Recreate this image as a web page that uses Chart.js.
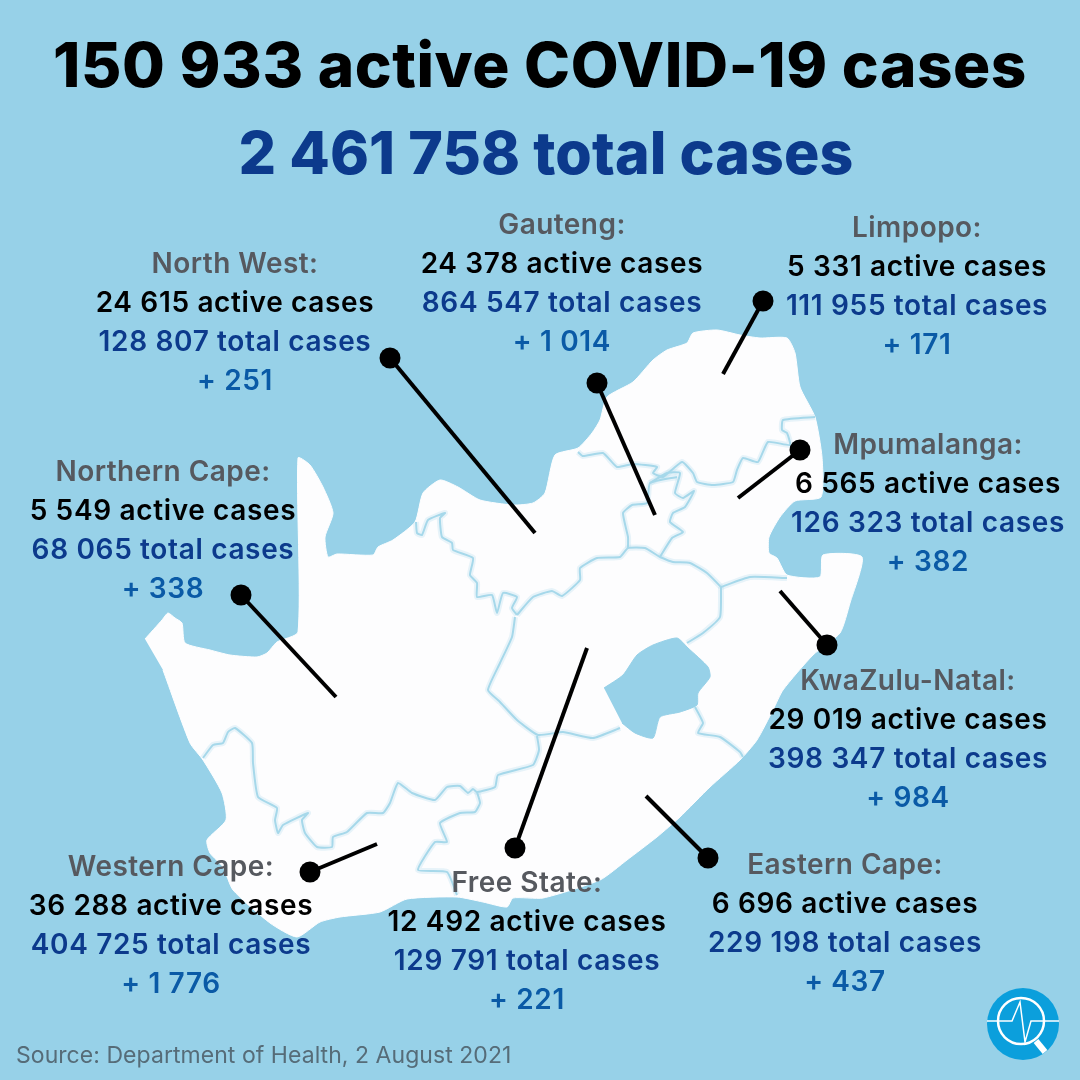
<!DOCTYPE html>
<html>
<head>
<meta charset="utf-8">
<style>
html, body { margin: 0; padding: 0; background: #97d1e8; }
canvas { display: block; }
</style>
<script src="https://cdn.jsdelivr.net/npm/chart.js@4"></script>
</head>
<body>
<canvas id="chart-covid" width="1080" height="1080"></canvas>
<script>
const headline = '150 933 active COVID-19 cases';
const subHeadline = '2 461 758 total cases';
const sourceNote = 'Source: Department of Health, 2 August 2021';

const provinces = ['Gauteng', 'Limpopo', 'North West', 'Northern Cape', 'Mpumalanga', 'KwaZulu-Natal', 'Western Cape', 'Free State', 'Eastern Cape'];
const activeCases = ['24 378', '5 331', '24 615', '5 549', '6 565', '29 019', '36 288', '12 492', '6 696'];
const totalCases = ['864 547', '111 955', '128 807', '68 065', '126 323', '398 347', '404 725', '129 791', '229 198'];
const newCases = ['1 014', '171', '251', '338', '382', '984', '1 776', '221', '437'];

// where each text block sits: centre x, y of first line
const blockX = [562, 917, 235, 163, 928, 908, 171, 527, 845];
const blockY = [226, 229, 265, 473, 446, 682, 868, 884, 866];

// leader lines, dot first then the end on the map
const leaderLines = [
    [[597, 383], [655, 515]],
    [[763, 301], [723, 374]],
    [[390, 358], [535, 533]],
    [[241, 595], [336, 697]],
    [[800, 450], [738, 498]],
    [[827, 645], [780, 591]],
    [[310, 872], [377, 844]],
    [[515, 848], [587, 648]],
    [[708, 858], [646, 796]]
];

const countryOutline = [
    [145, 639], [162, 620], [168, 613], [175, 618], [182, 623], [185, 643], [210, 650], [230, 655], [257, 657], [267, 653],
    [277, 642], [298, 632], [298, 458], [310, 465], [323, 487], [333, 513], [325, 537], [328, 557], [337, 554], [373, 555],
    [378, 547], [393, 540], [415, 522], [423, 493], [440, 480], [458, 487], [480, 500], [513, 505], [533, 503], [545, 493],
    [555, 455], [578, 448], [592, 433], [600, 420], [607, 397], [633, 382], [653, 360], [667, 350], [687, 343], [693, 333],
    [717, 330], [740, 335], [760, 338], [787, 338], [795, 353], [800, 387], [815, 417], [822, 457], [821, 497], [795, 501],
    [780, 517], [769, 537], [769, 553], [777, 558], [787, 575], [820, 577], [823, 555], [862, 557], [850, 603], [840, 633],
    [813, 655], [783, 690], [773, 710], [757, 740], [740, 760], [710, 787], [680, 817], [657, 837], [627, 860], [600, 880],
    [543, 898], [513, 898], [507, 907], [483, 902], [457, 897], [407, 899], [380, 912], [340, 917], [320, 922], [297, 937],
    [270, 923], [233, 890], [223, 867], [210, 853], [207, 840], [226, 820], [222, 793], [203, 760], [190, 743], [163, 670]
];
const lesotho = [
    [604, 688], [623, 675], [637, 655], [653, 645], [677, 638], [688, 648], [708, 667], [710, 677], [698, 693], [697, 705],
    [680, 712], [660, 717], [653, 738], [635, 733], [622, 723]
];
const borderLines = [
    // Northern Cape / North West
    [[416, 522], [417, 533], [422, 535], [428, 520], [445, 513], [440, 518], [442, 537], [452, 543], [453, 550], [473, 558],
     [470, 575], [477, 583], [477, 597], [492, 595], [497, 613], [503, 593], [517, 597], [512, 608], [517, 615]],
    // North West / Free State, on to KZN
    [[517, 615], [533, 597], [552, 591], [562, 596], [580, 580], [580, 568], [597, 558], [620, 557], [628, 548], [645, 548],
     [660, 557], [673, 562], [690, 563], [707, 573], [721, 587]],
    // Free State / KZN
    [[721, 587], [720, 617], [703, 633], [687, 643]],
    // KZN / Mpumalanga
    [[721, 587], [750, 577], [787, 578]],
    // Gauteng
    [[628, 548], [628, 537], [623, 513], [632, 505], [647, 503], [650, 483], [677, 477]],
    [[660, 557], [672, 538], [683, 532], [670, 522], [673, 513], [685, 507], [694, 491], [683, 498], [675, 493], [680, 473], [667, 473], [650, 483]],
    // Limpopo
    [[578, 452], [583, 456], [603, 453], [617, 467], [633, 464], [657, 467], [653, 473], [663, 477], [682, 462], [693, 473],
     [697, 482], [713, 485], [733, 482], [737, 470], [743, 458], [758, 462], [768, 442], [790, 445], [787, 433], [782, 430], [783, 420], [815, 417]],
    // Free State / Northern Cape
    [[515, 617], [512, 637], [500, 663], [488, 690], [500, 702], [517, 720], [538, 735], [563, 732], [593, 738], [620, 728]],
    // Northern Cape / Eastern Cape / Western Cape
    [[537, 736], [539, 750], [533, 765], [498, 775], [495, 787], [477, 792], [473, 789], [468, 793], [460, 786], [447, 787],
     [435, 800], [412, 793], [398, 783], [390, 803], [383, 813], [367, 813], [347, 832], [333, 837], [332, 847], [317, 847],
     [305, 833], [302, 820], [308, 813], [283, 825], [278, 833], [275, 820], [277, 808], [258, 797], [253, 763], [252, 743],
     [235, 728], [228, 732], [223, 743], [213, 745], [203, 758]],
    // Western Cape / Eastern Cape
    [[477, 792], [480, 803], [475, 812], [460, 813], [440, 823], [447, 842], [435, 842], [418, 870], [447, 872], [457, 895]],
    // Eastern Cape / KZN
    [[695, 707], [703, 723], [698, 733], [720, 737], [740, 752], [743, 757]]
];

const toPoints = (list) => list.map(([x, y]) => ({ x, y }));

const drawLine = (ctx, text, x, y, font, color, spacing, align) => {
    ctx.font = font;
    ctx.fillStyle = color;
    ctx.letterSpacing = spacing + 'px';
    ctx.textAlign = align || 'center';
    ctx.textBaseline = 'middle';
    ctx.fillText(text, x, y);
};

const infographicText = {
    id: 'infographicText',
    afterDraw(chart) {
        const ctx = chart.ctx;
        const sx = chart.scales.x;
        const sy = chart.scales.y;
        ctx.save();
        drawLine(ctx, headline, sx.getPixelForValue(540), sy.getPixelForValue(68), '800 62px Inter', '#000000', 0.55);
        drawLine(ctx, subHeadline, sx.getPixelForValue(546), sy.getPixelForValue(156), '800 59px Inter', '#0c3a8c', 0.1);
        provinces.forEach((name, i) => {
            const x = sx.getPixelForValue(blockX[i]);
            const y = blockY[i];
            drawLine(ctx, name + ':', x, sy.getPixelForValue(y), '600 28px Inter', '#56595f', 0.45);
            drawLine(ctx, activeCases[i] + ' active cases', x, sy.getPixelForValue(y + 39), '600 28px Inter', '#000000', 0.65);
            drawLine(ctx, totalCases[i] + ' total cases', x, sy.getPixelForValue(y + 78), '600 28px Inter', '#0c3a8c', 0.65);
            drawLine(ctx, '+ ' + newCases[i], x, sy.getPixelForValue(y + 117), '600 28px Inter', '#0a5aa6', 0.65);
        });
        drawLine(ctx, sourceNote, sx.getPixelForValue(16), sy.getPixelForValue(1056), '400 23px Inter', '#566c78', 0.05, 'left');

        // logo, bottom right
        const lx = sx.getPixelForValue(1023);
        const ly = sy.getPixelForValue(1024);
        ctx.fillStyle = '#0b9fdc';
        ctx.beginPath();
        ctx.arc(lx, ly, 36, 0, Math.PI * 2);
        ctx.fill();
        ctx.strokeStyle = '#ffffff';
        ctx.lineWidth = 2.5;
        ctx.beginPath();
        ctx.arc(lx - 2, ly - 3, 23, 0, Math.PI * 2);
        ctx.stroke();
        ctx.lineWidth = 1.5;
        ctx.beginPath();
        ctx.moveTo(lx - 36, ly - 3);
        ctx.lineTo(lx - 11, ly - 3);
        ctx.lineTo(lx - 3, ly - 22);
        ctx.lineTo(lx + 2, ly + 18);
        ctx.lineTo(lx + 8, ly - 3);
        ctx.lineTo(lx + 36, ly - 3);
        ctx.stroke();
        ctx.lineWidth = 6;
        ctx.beginPath();
        ctx.moveTo(lx + 13, ly + 17);
        ctx.lineTo(lx + 22, ly + 28);
        ctx.stroke();
        ctx.restore();
    }
};

// leaders first in the list: Chart.js paints the first dataset last
const datasets = [];

leaderLines.forEach((line) => {
    datasets.push({
        data: toPoints(line),
        showLine: true,
        borderColor: '#000000',
        borderWidth: 4,
        borderCapStyle: 'butt',
        pointBackgroundColor: '#000000',
        pointBorderWidth: 0,
        pointRadius: [10.5, 0]
    });
});

datasets.push({
    data: toPoints(lesotho),
    showLine: true,
    fill: 'shape',
    backgroundColor: '#97d1e8',
    borderColor: '#97d1e8',
    borderWidth: 1,
    tension: 0.2,
    pointRadius: 0
});

borderLines.forEach((line) => {
    datasets.push({
        data: toPoints(line),
        showLine: true,
        borderColor: '#a6d8ea',
        borderWidth: 2,
        tension: 0.15,
        pointRadius: 0
    });
    datasets.push({
        data: toPoints(line),
        showLine: true,
        borderColor: 'rgba(166, 216, 234, 0.25)',
        borderWidth: 6,
        tension: 0.15,
        pointRadius: 0
    });
});

datasets.push({
    data: toPoints(countryOutline),
    showLine: true,
    fill: 'shape',
    backgroundColor: '#fdfdfe',
    borderColor: '#fdfdfe',
    borderWidth: 1,
    tension: 0.2,
    pointRadius: 0
});

new Chart(document.getElementById('chart-covid').getContext('2d'), {
    type: 'scatter',
    data: { datasets },
    plugins: [infographicText],
    options: {
        responsive: false,
        animation: false,
        layout: { padding: 0, autoPadding: false },
        plugins: { legend: { display: false }, title: { display: false }, tooltip: { enabled: false } },
        scales: {
            x: { type: 'linear', min: 0, max: 1080, display: false },
            y: { type: 'linear', min: 0, max: 1080, reverse: true, display: false }
        }
    }
});
</script>
</body>
</html>
